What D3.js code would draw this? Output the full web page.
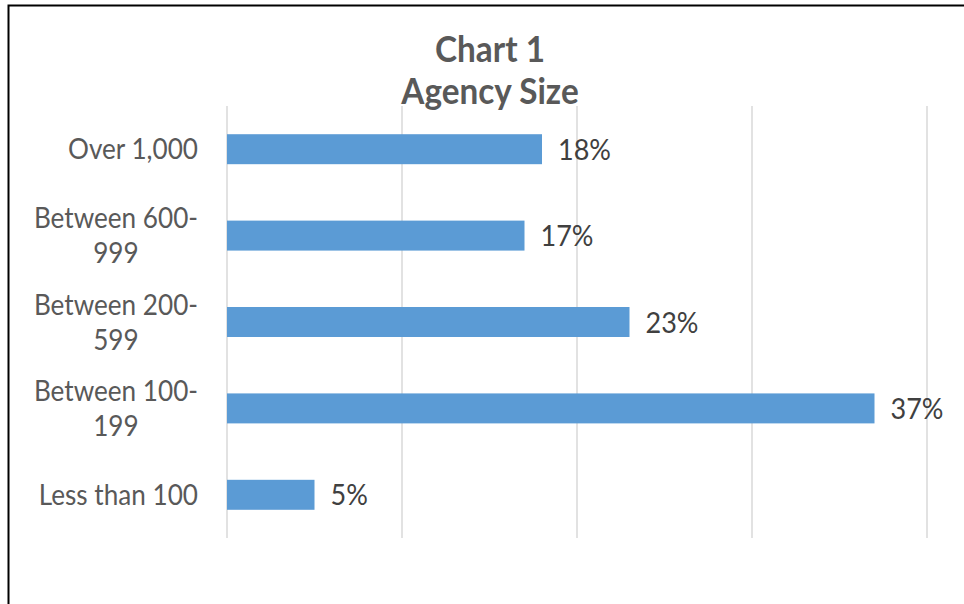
<!DOCTYPE html>
<html>
<head>
<meta charset="utf-8">
<script src="https://cdn.jsdelivr.net/npm/d3@7"></script>
<style>
  html, body { margin: 0; padding: 0; background: #fff; }
  svg { display: block; }
  text { font-family: Lato, "Noto Sans", sans-serif; }
</style>
</head>
<body>
<svg id="chart" width="964" height="604"></svg>
<script>
// ---- data ----
const categories = [
  ["Over 1,000"],
  ["Between 600-", "999"],
  ["Between 200-", "599"],
  ["Between 100-", "199"],
  ["Less than 100"]
];
const values = [18, 17, 23, 37, 5];
const gridTicks = [0, 10, 20, 30, 40];
const titleLines = ["Chart 1", "Agency Size"];

// ---- layout ----
const plot = { left: 227, right: 927, top: 106, bottom: 538 };
const svg = d3.select("#chart");

// chart border
svg.append("rect")
  .attr("x", 8.5).attr("y", 5.5)
  .attr("width", 1200).attr("height", 800)
  .attr("fill", "#fff").attr("stroke", "#000").attr("stroke-width", 2);

const x = d3.scaleLinear().domain([0, 40]).range([plot.left, plot.right]);
const y = d3.scaleBand().domain(d3.range(categories.length))
  .range([plot.top, plot.bottom]).paddingInner(0.653).paddingOuter(0.3265);

// measure helpers
function measure(str, size, weight) {
  const t = svg.append("text").attr("font-size", size).attr("font-weight", weight).text(str);
  const w = t.node().getComputedTextLength();
  t.remove();
  return w;
}
function fitSize(str, targetW, weight, base) {
  return base * targetW / measure(str, base, weight);
}
const STRETCH = 1.08; // taller glyphs, width kept via textLength
const catSize = fitSize("Over 1,000", 130, "normal", 30);
const lblSize = fitSize("23%", 53, "normal", 30);
const titleSize = fitSize("Chart 1", 110, "bold", 36);

function addText(sel, str, size, weight) {
  const w = measure(str, size, weight);
  return sel.append("text")
    .attr("font-size", size * STRETCH)
    .attr("font-weight", weight)
    .attr("textLength", w)
    .attr("lengthAdjust", "spacingAndGlyphs")
    .text(str);
}

// gridlines
svg.append("g").selectAll("line").data(gridTicks).join("line")
  .attr("x1", d => x(d)).attr("x2", d => x(d))
  .attr("y1", plot.top).attr("y2", plot.bottom)
  .attr("stroke", "#D9D9D9").attr("stroke-width", 1.5);

// bars
svg.append("g").selectAll("rect").data(values).join("rect")
  .attr("x", x(0))
  .attr("y", (d, i) => y(i))
  .attr("width", d => x(d) - x(0))
  .attr("height", y.bandwidth())
  .attr("fill", "#5B9BD5");

// data labels
const lg = svg.append("g");
values.forEach((d, i) => {
  addText(lg, d + "%", lblSize, "normal")
    .attr("x", x(d) + 16)
    .attr("y", y(i) + y.bandwidth() / 2)
    .attr("dy", "0.36em")
    .attr("fill", "#404040");
});

// category labels (wrapped lines centred, block right-aligned)
const catRight = 198;
const lineH = 35;
categories.forEach((lines, i) => {
  const g = svg.append("g");
  const cy = y(i) + y.bandwidth() / 2;
  const maxW = d3.max(lines, s => measure(s, catSize, "normal"));
  lines.forEach((s, k) => {
    addText(g, s, catSize, "normal")
      .attr("fill", "#595959")
      .attr("text-anchor", "middle")
      .attr("x", catRight - maxW / 2)
      .attr("y", cy + (k - (lines.length - 1) / 2) * lineH)
      .attr("dy", "0.36em");
  });
});

// title
const tg = svg.append("g");
titleLines.forEach((s, i) => {
  addText(tg, s, titleSize, "bold")
    .attr("x", 490)
    .attr("y", 62 + i * 42)
    .attr("text-anchor", "middle")
    .attr("fill", "#595959");
});
</script>
</body>
</html>
